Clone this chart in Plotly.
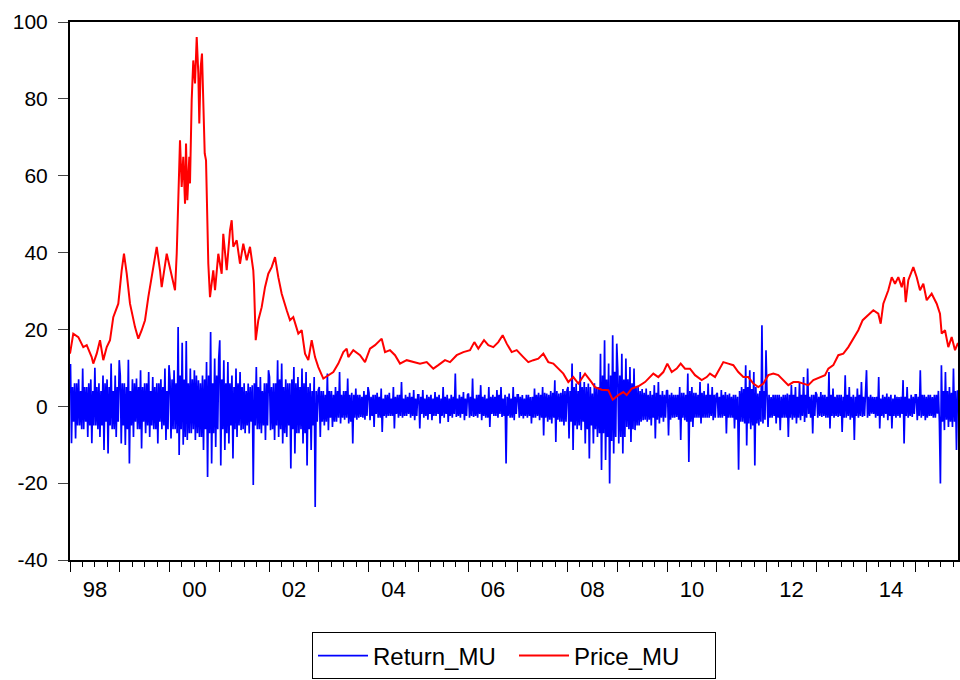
import numpy as np
import plotly.graph_objects as go

# ---------------- data ----------------
# Price_MU: (decimal year, price)
price_t = [1998.000, 1998.066, 1998.167, 1998.267, 1998.336, 1998.436, 1998.468, 1998.537, 1998.603, 1998.669,
           1998.738, 1998.804, 1998.870, 1998.971, 1999.039, 1999.085, 1999.140, 1999.206, 1999.307, 1999.373,
           1999.441, 1999.508, 1999.574, 1999.642, 1999.743, 1999.809, 1999.843, 1999.944, 2000.044, 2000.111,
           2000.145, 2000.161, 2000.177, 2000.211, 2000.245, 2000.277, 2000.312, 2000.332, 2000.358, 2000.398,
           2000.412, 2000.446, 2000.478, 2000.513, 2000.547, 2000.579, 2000.599, 2000.627, 2000.653, 2000.679,
           2000.708, 2000.734, 2000.760, 2000.780, 2000.814, 2000.880, 2000.915, 2000.981, 2001.049, 2001.081,
           2001.150, 2001.216, 2001.250, 2001.282, 2001.351, 2001.417, 2001.483, 2001.552, 2001.618, 2001.684,
           2001.698, 2001.704, 2001.733, 2001.785, 2001.853, 2001.920, 2001.986, 2002.054, 2002.121, 2002.187,
           2002.255, 2002.356, 2002.422, 2002.488, 2002.589, 2002.657, 2002.724, 2002.790, 2002.858, 2002.925,
           2002.991, 2003.092, 2003.192, 2003.293, 2003.393, 2003.494, 2003.562, 2003.594, 2003.694, 2003.829,
           2003.930, 2004.030, 2004.131, 2004.231, 2004.265, 2004.332, 2004.432, 2004.533, 2004.633, 2004.768,
           2004.901, 2005.035, 2005.170, 2005.303, 2005.403, 2005.538, 2005.638, 2005.773, 2005.906, 2006.040,
           2006.127, 2006.207, 2006.322, 2006.408, 2006.509, 2006.609, 2006.697, 2006.778, 2006.878, 2006.979,
           2007.112, 2007.212, 2007.313, 2007.413, 2007.514, 2007.614, 2007.715, 2007.815, 2007.916, 2008.016,
           2008.117, 2008.217, 2008.352, 2008.452, 2008.553, 2008.687, 2008.820, 2008.908, 2009.021, 2009.122,
           2009.190, 2009.291, 2009.423, 2009.558, 2009.725, 2009.825, 2009.926, 2010.006, 2010.095, 2010.195,
           2010.275, 2010.362, 2010.462, 2010.563, 2010.697, 2010.798, 2010.864, 2010.965, 2011.065, 2011.132,
           2011.232, 2011.333, 2011.433, 2011.534, 2011.634, 2011.735, 2011.835, 2011.936, 2012.036, 2012.137,
           2012.237, 2012.338, 2012.438, 2012.539, 2012.639, 2012.740, 2012.840, 2012.941, 2013.075, 2013.176,
           2013.242, 2013.343, 2013.443, 2013.544, 2013.644, 2013.745, 2013.845, 2013.933, 2014.046, 2014.147,
           2014.247, 2014.295, 2014.348, 2014.448, 2014.517, 2014.583, 2014.649, 2014.718, 2014.764, 2014.798,
           2014.850, 2014.919, 2014.951, 2015.019, 2015.085, 2015.152, 2015.220, 2015.320, 2015.421, 2015.487,
           2015.521, 2015.588, 2015.654, 2015.722, 2015.789, 2015.849]
price_vals = [13.7, 18.9, 18.0, 15.4, 15.9, 12.8, 11.1, 13.7, 17.2, 12.0,
              15.4, 17.2, 23.2, 26.7, 35.4, 39.7, 34.5, 26.7, 20.6, 17.6,
              19.8, 22.4, 28.4, 33.6, 41.5, 35.4, 31.0, 39.7, 33.6, 30.2,
              39.7, 45.8, 53.6, 69.2, 57.1, 64.9, 52.7, 68.4, 53.6, 64.9,
              58.0, 79.7, 90.0, 84.0, 96.1, 86.6, 73.6, 88.3, 91.8, 79.6,
              65.8, 64.0, 51.0, 37.1, 28.4, 35.4, 30.2, 39.7, 34.5, 44.9,
              35.4, 45.8, 48.4, 41.5, 43.2, 37.1, 42.3, 38.0, 41.5, 35.4,
              31.9, 28.4, 17.2, 22.4, 25.8, 31.0, 34.5, 36.2, 38.8, 33.6,
              29.3, 25.0, 22.4, 23.2, 18.9, 19.8, 13.7, 12.0, 17.2, 12.8,
              10.2, 7.2, 8.1, 8.9, 11.1, 14.1, 15.0, 12.8, 14.6, 13.3,
              11.5, 15.0, 15.9, 17.2, 17.6, 14.1, 14.6, 13.3, 11.1, 12.0,
              11.5, 11.1, 11.5, 9.8, 10.7, 12.0, 11.5, 13.3, 14.1, 14.6,
              16.7, 15.0, 17.2, 15.9, 15.4, 16.7, 18.5, 16.3, 14.1, 14.6,
              12.8, 11.5, 12.0, 12.4, 13.7, 11.5, 11.1, 9.8, 8.5, 6.3,
              7.6, 5.9, 8.5, 6.8, 5.0, 4.3, 4.2, 1.7, 2.9, 3.7,
              2.9, 4.6, 5.2, 6.3, 8.5, 7.6, 8.9, 11.1, 8.9, 9.8,
              11.1, 9.8, 9.8, 8.1, 6.8, 7.6, 8.5, 7.6, 9.8, 11.5,
              11.1, 10.7, 8.9, 7.6, 7.6, 5.9, 5.0, 5.9, 8.1, 8.5,
              8.1, 6.8, 5.5, 6.3, 6.3, 5.9, 5.5, 6.8, 7.6, 8.1,
              9.8, 10.7, 13.3, 13.7, 15.4, 17.6, 19.8, 22.4, 23.7, 25.0,
              24.1, 21.5, 26.7, 30.2, 33.6, 31.9, 33.6, 31.0, 33.6, 27.1,
              32.8, 35.4, 36.2, 33.6, 30.2, 31.9, 27.6, 29.3, 26.7, 24.1,
              18.9, 19.8, 15.4, 18.0, 14.6, 16.5]

# Return_MU, part 1: extremes read through each calendar year
ret_1998 = [11, -9.6, 6, -8.4, 7, -5, 9.8, -6, 5, -8, 7, -9.6, 10, -5, 6, -8, 8, -11.4, 7, -12.3, 11.1, -6, 8, -8, 12]
ret_1999 = [8, -9.7, 6, -10.1, 12.1, -14.9, 7, -8, 7.2, -6, 9.4, -11, 6, -7, 8.9, -8, 7.6, -6, 6, -9.7, 7, -6, 9.8, -8.8, 10.7]
ret_2000 = [7, -8.4, 9.4, -6, 20.6, -12.7, 16.5, -10, 17, -8.8, 9.8, -7, 9.4, -8.8, 6.8, -8, 8, -11.4, 11.5, -18.4, 19.3, -14.9, 12.4, -10.6, 12.4]
ret_2001 = [17.2, -15.4, 12, -11.4, 11.5, -9.7, 8, -13.6, 9.8, -8, 8.9, -6.2, 6, -7, 5.9, -7.1, 5.5, -20.5, 10.2, -6, 7.6, -7, 6, -8.8, 9.4]
ret_2002 = [7.6, -6.2, 6, -8.8, 12, -8, 11.1, -9.7, 7, -8, 6, -16.2, 10.2, -12.3, 7.6, -7, 9.8, -9.7, 8.9, -15.4, 6, -11.4, 7.6, -26.2, 4.2]
ret_2003 = [5, -8, 4, -5, 8.5, -6.2, 4, -5.4, 5, -4, 8.9, -4.5, 4, -3.5, 7.2, -4.5, 3.5, -9.7, 4.6, -3.5, 3, -2.8, 4, -3.5, 5]
ret_2004 = [3.5, -3.6, 3, -5.4, 3.5, -3, 4.6, -6.7, 3, -3, 3.5, -2.5, 5, -5.8, 3, -3, 6.3, -3, 3, -2.5, 3.5, -3, 4.2, -3.6, 3]
ret_2005 = [3, -5.8, 4.2, -3, 3, -3.5, 3, -3.6, 3.7, -2.5, 3, -4.5, 5, -3, 3, -4.1, 3, -3, 8.5, -2.8, 3, -3, 3.7, -3.6, 3]
ret_2006 = [3.3, -3, 7.2, -2.8, 3, -3, 5.5, -3.6, 3, -3, 5, -5.4, 3, -2.5, 4.2, -3, 5, -2.8, 3, -14.9, 3.3, -3, 5, -3.6, 3]
ret_2007 = [3, -3, 2.9, -3.2, 3, -3, 2.4, -4.5, 4.6, -3, 3.5, -3.6, 5, -7.6, 3.3, -4, 4, -4.5, 6.8, -9.3, 3.3, -4, 4.5, -5, 4.2]
ret_2008 = [5, -8.4, 11.1, -11.4, 5.9, -6, 8.9, -6.2, 6.3, -9.7, 5.9, -13.6, 3.3, -9.7, 5, -8, 13.7, -16.6, 17.2, -14, 11.1, -20.1, 18.5, -12.3, 16.3]
ret_2009 = [9.4, -9.7, 13.7, -12.3, 12.4, -5.4, 10.2, -9.3, 9.8, -6.2, 5, -5, 4.5, -3.6, 4.6, -4, 4, -5, 5.5, -8.4, 6.3, -4.5, 4, -4, 4]
ret_2010 = [4.2, -7.6, 3.5, -3, 3, -2.8, 5, -8.8, 3.5, -3.6, 8.5, -14.5, 5, -5.4, 3.5, -3, 6.3, -4.5, 4, -3, 5.9, -3, 5, -3.6, 3]
ret_2011 = [3.5, -3, 4.2, -3, 3.7, -7.1, 3.3, -3, 3, -5.8, 2.5, -16.5, 5, -4, 10.7, -10.2, 9.4, -6, 8.9, -15.4, 3.3, -5, 21.1, -4.5, 14.6]
ret_2012 = [3, -5.4, 2.4, -3, 3, -4.5, 3, -6.2, 3, -3, 3.3, -8, 5.5, -3.5, 5, -4.5, 6.3, -3.6, 7.6, -4.1, 9.8, -2, 3, -7.1, 3.7]
ret_2013 = [3, -3, 3.7, -2.8, 3, -3, 8.9, -5.8, 4.6, -3, 3, -2.8, 3, -6.7, 8.1, -3, 5, -3.5, 3, -8.8, 4.6, -3, 6.3, -2.8, 3]
ret_2014 = [9.4, -3, 3, -1.9, 2.4, -3, 7.6, -5.8, 3, -3, 3.3, -3.6, 3, -5.8, 3, -3, 2.4, -3, 6.8, -9.7, 5, -3, 3, -2.8, 3]
ret_2015 = [3, -3.6, 9.4, -3, 3, -3.6, 3, -2.5, 2.4, -3, 3, -1.9, -20.1, 10.7, -6.2, 8.9, -5.4, 5, -5.4, 9.8, -11.4, 4.2]

# Return_MU, part 2: the dense core band between those extremes
band_1998 = [5, -4, 6, -5, 4, -6, 5, -4, 6, -5, 4, -5, 5, -6, 4, -5, 6, -4, 5, -5, 4, -6, 5, -4]
band_1999 = [6, -5, 5, -6, 4, -5, 6, -4, 5, -6, 5, -4, 6, -5, 4, -5, 5, -6, 6, -4, 5, -5, 4, -6]
band_2000 = [7, -6, 6, -7, 8, -6, 7, -8, 6, -7, 7, -6, 8, -7, 6, -8, 7, -6, 8, -7, 6, -7, 8, -6]
band_2001 = [7, -6, 6, -7, 6, -5, 5, -6, 6, -5, 5, -6, 4, -5, 5, -4, 6, -5, 5, -6, 4, -5, 6, -5]
band_2002 = [5, -6, 6, -5, 7, -6, 5, -7, 6, -5, 7, -6, 6, -7, 5, -6, 6, -7, 5, -6, 4, -5, 4, -4]
band_2003 = [4, -4, 3, -4, 4, -3, 3, -4, 4, -3, 3, -3, 4, -3, 3, -4, 3, -3, 3, -3, 2.5, -3, 3, -2.5]
band_2004 = [2.5, -2.5, 3, -2, 2.5, -3, 2, -2.5, 3, -2.5, 2, -2.5, 2.5, -2, 3, -2.5, 2, -2.5, 2.5, -2, 2.5, -2.5, 2, -2.5]
band_2005 = [2.5, -2, 2, -2.5, 2.5, -2, 2, -2.5, 2.5, -2, 2, -2.5, 2.5, -2, 2, -2.5, 2.5, -2, 2, -2.5, 2.5, -2, 2, -2.5]
band_2006 = [2.5, -2.5, 2, -2.5, 3, -2, 2.5, -2.5, 2, -3, 2.5, -2, 2.5, -2.5, 3, -2, 2, -2.5, 2.5, -2.5, 2, -3, 2.5, -2]
band_2007 = [2.5, -2.5, 2, -2.5, 3, -2.5, 2.5, -3, 3, -2.5, 3, -3, 3.5, -3, 3, -3.5, 3.5, -3, 4, -3.5, 3.5, -4, 4, -4]
band_2008 = [4, -4, 5, -5, 4, -5, 5, -4, 5, -6, 5, -5, 6, -6, 5, -7, 8, -7, 7, -8, 8, -9, 9, -8]
band_2009 = [8, -8, 7, -8, 7, -6, 6, -6, 5, -5, 4, -4, 3.5, -3.5, 3, -3.5, 3, -3, 3.5, -3.5, 3, -3, 3, -3]
band_2010 = [3, -3.5, 3, -3, 3, -3.5, 3.5, -3, 3, -4, 4, -4, 3.5, -3, 3, -3, 3.5, -3, 3, -3, 3, -2.5, 3, -3]
band_2011 = [2.5, -3, 3, -2.5, 3, -3, 2.5, -3, 3, -3.5, 4, -4, 4.5, -4.5, 5, -4.5, 4.5, -5, 5, -4.5, 4, -4, 4, -3.5]
band_2012 = [3, -3, 3, -2.5, 3, -3, 2.5, -3, 3, -3, 3, -3, 3, -3, 2.5, -3, 3, -2.5, 3, -3, 2.5, -3, 3, -2.5]
band_2013 = [2.5, -2.5, 3, -2.5, 2.5, -3, 3, -2.5, 2.5, -2.5, 3, -2.5, 2.5, -3, 3, -2.5, 2.5, -3, 2.5, -2.5, 3, -2.5, 2.5, -2.5]
band_2014 = [2.5, -2.5, 2.5, -2, 2.5, -2.5, 2, -2.5, 2.5, -2, 2.5, -2.5, 2, -2.5, 2.5, -2.5, 2.5, -2, 2.5, -2.5, 2, -2.5, 2.5, -2]
band_2015 = [2.5, -2.5, 3, -2.5, 2.5, -3, 3, -2.5, 3, -3, 4, -4, -4, 4, -3.5, 4, -4, 3.5, -4, 4]

years = list(range(1998, 2016))
ret_lists = [ret_1998, ret_1999, ret_2000, ret_2001, ret_2002, ret_2003, ret_2004, ret_2005, ret_2006,
             ret_2007, ret_2008, ret_2009, ret_2010, ret_2011, ret_2012, ret_2013, ret_2014, ret_2015]
band_lists = [band_1998, band_1999, band_2000, band_2001, band_2002, band_2003, band_2004, band_2005, band_2006,
              band_2007, band_2008, band_2009, band_2010, band_2011, band_2012, band_2013, band_2014, band_2015]
last_obs = 2015.849  # last observation (early Nov 2015)

y_ticks = [-40, -20, 0, 20, 40, 60, 80, 100]
y_ticktext = ["-40", "-20", "0", "20", "40", "60", "80", "100"]
x_label_years = [1998, 2000, 2002, 2004, 2006, 2008, 2010, 2012, 2014]
x_label_text = ["98", "00", "02", "04", "06", "08", "10", "12", "14"]

# ---------------- build ----------------
ret_t, ret_vals = [], []
for yr, ext, band in zip(years, ret_lists, band_lists):
    vals = []
    for j in range(0, len(ext), 2):
        vals.extend(ext[j:j + 2])
        vals.extend(band[j:j + 2])
    span = min(1.0, last_obs - yr)
    n = len(vals)
    ret_t.extend(yr + (np.arange(n) + 0.5) / n * span)
    ret_vals.extend(vals)

FONT = "Liberation Sans, Arial, sans-serif"
x_range = [1998.0, last_obs]

fig = go.Figure()
fig.add_trace(go.Scatter(x=ret_t, y=ret_vals, mode="lines", name="Return_MU",
                         line=dict(color="#0000FF", width=1.7)))
fig.add_trace(go.Scatter(x=price_t, y=price_vals, mode="lines", name="Price_MU",
                         line=dict(color="#FF0000", width=2)))
fig.add_trace(go.Scatter(x=[], y=[], xaxis="x2", showlegend=False, hoverinfo="skip"))

fig.update_layout(
    width=960, height=680,
    margin=dict(l=70, r=2, t=22, b=120, autoexpand=False),
    paper_bgcolor="white", plot_bgcolor="white",
    font=dict(family=FONT, size=21, color="black"),
    showlegend=True,
    legend=dict(orientation="h", x=0.5, xanchor="center", y=-0.1784, yanchor="middle",
                bordercolor="black", borderwidth=1, bgcolor="white",
                font=dict(family=FONT, size=24, color="black"),
                itemwidth=50, entrywidth=136, entrywidthmode="pixels", tracegroupgap=0),
    xaxis=dict(range=x_range, tickmode="array", tickvals=years,
               ticks="outside", ticklen=10, tickwidth=1, tickcolor="black",
               showticklabels=False, showline=True, linecolor="black", linewidth=2,
               mirror=True, showgrid=False, zeroline=False,
               minor=dict(tickmode="array",
                          tickvals=[y + q for y in years for q in (0.25, 0.5, 0.75)],
                          ticks="outside", ticklen=5, tickwidth=1, tickcolor="black", showgrid=False)),
    xaxis2=dict(range=x_range, overlaying="x", matches="x", anchor="y", side="bottom",
                tickmode="array", tickvals=[y + 0.5 for y in x_label_years], ticktext=x_label_text,
                ticks="", showline=False, showgrid=False, zeroline=False,
                ticklabelstandoff=14, tickfont=dict(family=FONT, size=22, color="black")),
    yaxis=dict(range=[-40, 100], tickmode="array", tickvals=y_ticks, ticktext=y_ticktext,
               ticks="outside", ticklen=10, tickwidth=1, tickcolor="#444",
               showline=True, linecolor="black", linewidth=2, mirror=True,
               showgrid=False, zeroline=False, ticklabelstandoff=6,
               tickfont=dict(family=FONT, size=21, color="black")),
)

fig.write_html("out.html")
